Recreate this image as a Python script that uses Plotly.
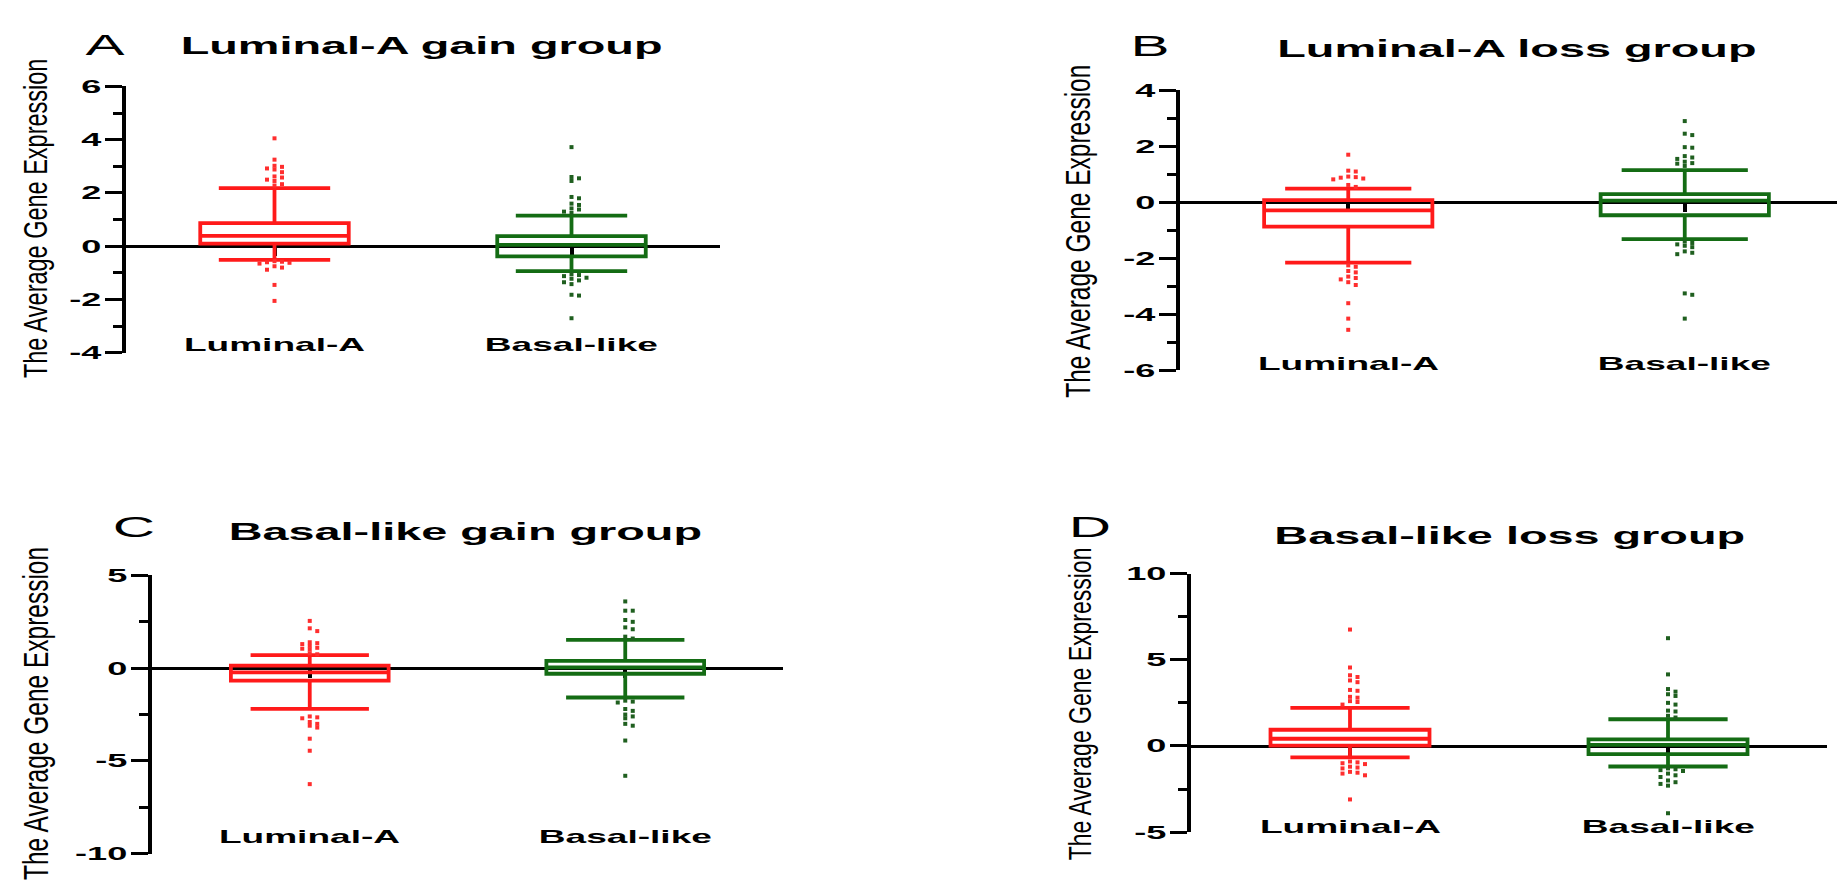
import plotly.graph_objects as go

# ---------------- data ----------------
categories = ["Luminal-A", "Basal-like"]
panel_letters = ["A", "B", "C", "D"]
panel_titles = ["Luminal-A gain group", "Luminal-A loss group",
                "Basal-like gain group", "Basal-like loss group"]
y_axis_title = "The Average Gene Expression"

# box statistics per panel: [Luminal-A, Basal-like]
box_q1 = [[0.10, -0.38], [-0.87, -0.46], [-0.67, -0.30], [0.02, -0.47]]
box_median = [[0.39, 0.05], [-0.29, 0.06], [-0.23, 0.05], [0.42, 0.06]]
box_q3 = [[0.87, 0.38], [0.08, 0.29], [0.14, 0.40], [0.94, 0.38]]
whisker_low = [[-0.51, -0.93], [-2.15, -1.31], [-2.19, -1.58], [-0.66, -1.19]]
whisker_high = [[2.18, 1.15], [0.49, 1.15], [0.70, 1.53], [2.21, 1.55]]

# outlier points
A_luminal = [4.05, 3.25, 3.02, 2.98, 2.92, 2.88, 2.78, 2.62, 2.58, 2.5, 2.45, 2.33, 2.28,
             -0.56, -0.58, -0.6, -0.62, -0.65, -0.75, -0.8, -0.88, -1.45, -2.05]
A_basal = [3.72, 2.6, 2.55, 2.45, 1.85, 1.8, 1.6, 1.55, 1.42, 1.38, 1.3, 1.25,
           -1.05, -1.08, -1.12, -1.18, -1.22, -1.28, -1.35, -1.42, -1.82, -1.85, -2.7]
B_luminal = [1.7, 1.13, 1.1, 0.92, 0.9, 0.88, 0.85, 0.82, 0.62, 0.55,
             -2.25, -2.3, -2.45, -2.5, -2.65, -2.7, -2.75, -2.85, -2.95, -3.6, -4.15, -4.55]
B_basal = [2.9, 2.45, 2.4, 1.97, 1.95, 1.65, 1.6, 1.55, 1.45, 1.4, 1.38, 1.3,
           -1.4, -1.45, -1.5, -1.55, -1.6, -1.75, -1.8, -1.85, -3.25, -3.3, -4.15]
C_luminal = [2.55, 2.15, 2.0, 1.4, 1.35, 1.3, 1.2, 1.1, 1.05, 1.0, 0.8, 0.75,
             -2.6, -2.65, -2.7, -2.9, -3.0, -3.1, -3.2, -3.8, -4.45, -6.25]
C_basal = [3.6, 3.1, 3.1, 2.6, 2.5, 2.2, 2.1, 1.7, 1.6,
           -1.75, -1.8, -1.85, -2.2, -2.3, -2.5, -2.6, -2.7, -3.0, -3.1, -3.9, -5.8]
D_luminal = [6.75, 4.55, 4.1, 4.0, 3.8, 3.7, 3.25, 3.2, 2.85, 2.8, 2.6, 2.55, 2.4,
             -0.9, -0.95, -1.0, -1.05, -1.2, -1.25, -1.3, -1.5, -1.55, -1.6, -1.7, -3.1]
D_basal = [6.25, 4.15, 3.3, 3.15, 3.0, 2.9, 2.5, 2.4, 2.05, 2.0, 1.75, 1.65,
           -1.3, -1.35, -1.4, -1.45, -1.6, -1.7, -1.8, -2.0, -2.1, -2.2, -2.3, -3.9]
outliers = [[A_luminal, A_basal], [B_luminal, B_basal],
            [C_luminal, C_basal], [D_luminal, D_basal]]

y_ranges = [[-4, 6], [-6, 4], [-10, 5], [-5, 10]]
y_dticks = [2, 2, 5, 5]

# ---------------- layout / style ----------------
W, H = 1845, 884
# plot frames in pixels: x-left, x-right, y-top, y-bottom
frames = [(118, 712, 69, 342), (1172, 1845, 73, 360),
          (144, 775, 570, 855), (1183, 1819, 568, 833)]
letter_pos = [(97, 26), (1142, 27), (126, 520), (1082, 520)]
title_pos = [(413, 27), (1509, 30), (457, 525), (1501, 529)]
ytitle_pos = [(28, 204), (1070, 218), (28, 712), (1072, 702)]
ytitle_size = [23.5, 24.5, 24.5, 23]
catlabel_y = [333, 353, 837, 827]

colors = ["#ff1a1a", "#146c14"]
dot_colors = ["#ff2e2e", "#1f5f1f"]
FONT = "Liberation Sans, Arial, Helvetica, sans-serif"

# the reference picture is widened about 1.95x horizontally; its lettering is too
TEXT_WIDEN = 1.95
YTITLE_THICKEN = 1.4


def px(x):
    return x / W


def py(y):
    return 1 - y / H


def fmt(v):
    return ("-" if v < 0 else "") + str(abs(int(v)))


def swarm(values, px_per_x, px_per_y, spacing=7.5, min_dy=3.6):
    """Beeswarm offsets (in x data units) so dots with close values sit side by side."""
    placed = []
    offsets = [0.0] * len(values)
    order = sorted(range(len(values)), key=lambda i: -values[i])
    for i in order:
        yv = values[i] * px_per_y
        k = 0
        while True:
            cand = ((k + 1) // 2) * (1 if k % 2 else -1) * spacing if k else 0.0
            if all(abs(cand - ox) >= spacing * 0.95 or abs(yv - oy) >= min_dy for ox, oy in placed):
                break
            k += 1
        placed.append((cand, yv))
        offsets[i] = cand / px_per_x
    return offsets


fig = go.Figure()
annotations = []
layout = dict(width=W, height=H, margin=dict(l=0, r=0, t=0, b=0),
              paper_bgcolor="white", plot_bgcolor="rgba(0,0,0,0)", showlegend=False)

for p in range(4):
    n = p + 1
    xa, ya = ("x" if n == 1 else f"x{n}"), ("y" if n == 1 else f"y{n}")
    x0, x1, yt, yb = frames[p]
    ymin, ymax = y_ranges[p]
    px_per_x = (x1 - x0) / 2.0
    px_per_y = (yb - yt) / (ymax - ymin)

    for g in range(2):
        fig.add_trace(go.Box(
            x=[g], q1=[box_q1[p][g]], median=[box_median[p][g]], q3=[box_q3[p][g]],
            lowerfence=[whisker_low[p][g]], upperfence=[whisker_high[p][g]],
            orientation="v", width=0.5, whiskerwidth=0.75, boxpoints=False,
            line=dict(color=colors[g], width=3.8), fillcolor="rgba(0,0,0,0)",
            xaxis=xa, yaxis=ya, hoverinfo="skip"))
        vals = outliers[p][g]
        offs = swarm(vals, px_per_x, px_per_y)
        fig.add_trace(go.Scatter(
            x=[g + o for o in offs], y=vals, mode="markers",
            marker=dict(size=4, color=dot_colors[g], symbol="square"),
            xaxis=xa, yaxis=ya, cliponaxis=False, hoverinfo="skip"))

    zero_pos = py(yb) + (0 - ymin) / (ymax - ymin) * (py(yt) - py(yb))
    tvals = list(range(ymin, ymax + 1, y_dticks[p]))
    layout["xaxis" if n == 1 else f"xaxis{n}"] = dict(
        domain=[px(x0), px(x1)], range=[-0.5, 1.5], anchor="free", position=zero_pos,
        showline=True, linecolor="black", linewidth=2.5, showgrid=False, zeroline=False,
        ticks="outside", ticklen=8, tickwidth=4, tickcolor="black",
        tickvals=[0, 1], showticklabels=False, layer="below traces", fixedrange=True)
    layout["yaxis" if n == 1 else f"yaxis{n}"] = dict(
        domain=[py(yb), py(yt)], range=[ymin, ymax], anchor=xa,
        showline=True, linecolor="black", linewidth=4, showgrid=False, zeroline=False,
        ticks="outside", ticklen=17, tickwidth=3, tickcolor="black",
        tickvals=tvals, ticktext=[fmt(v) for v in tvals],
        minor=dict(dtick=y_dticks[p] / 2, tick0=ymin, ticks="outside", ticklen=9,
                   tickwidth=3, tickcolor="black", showgrid=False),
        tickfont=dict(family=FONT, size=18.5, color="black", weight="bold"),
        fixedrange=True)

    # category labels
    for g in range(2):
        annotations.append(dict(
            text=categories[g], x=g, xref=xa, y=py(catlabel_y[p]), yref="paper",
            showarrow=False, xanchor="center", yanchor="middle",
            font=dict(family=FONT, size=19, color="black", weight="bold")))
    # panel letter
    annotations.append(dict(
        text=panel_letters[p], x=px(letter_pos[p][0]), y=py(letter_pos[p][1]),
        xref="paper", yref="paper", showarrow=False, xanchor="center", yanchor="middle",
        font=dict(family=FONT, size=30, color="black")))
    # title
    annotations.append(dict(
        text=panel_titles[p], x=px(title_pos[p][0]), y=py(title_pos[p][1]),
        xref="paper", yref="paper", showarrow=False, xanchor="center", yanchor="middle",
        font=dict(family=FONT, size=24, color="black", weight="bold")))
    # y-axis title
    annotations.append(dict(
        text=y_axis_title, x=px(ytitle_pos[p][0]), y=py(ytitle_pos[p][1]),
        xref="paper", yref="paper", showarrow=False, xanchor="center", yanchor="middle",
        textangle=-90, font=dict(family=FONT, size=ytitle_size[p], color="black")))

layout["annotations"] = annotations
fig.update_layout(**layout)

# widen the lettering like the reference (text stays real SVG text)
post_js = """
var gd = document.getElementById('{plot_id}');
var WIDEN = %f, YT = %s, THICK = %f;
function widen(t) {
  var L = t.getComputedTextLength();
  if (!(L > 0)) return;
  t.setAttribute('textLength', (L * WIDEN).toFixed(2));
  t.setAttribute('lengthAdjust', 'spacingAndGlyphs');
}
gd.querySelectorAll('text.annotation-text').forEach(function (t) {
  if (t.textContent === YT) {
    var b = t.getBBox();
    var cy = b.y + b.height / 2;
    var old = t.getAttribute('transform') || '';
    t.setAttribute('transform', old + ' translate(0,' + cy + ') scale(1,' + THICK + ') translate(0,' + (-cy) + ')');
  } else {
    widen(t);
  }
});
gd.querySelectorAll('.yaxislayer-above text').forEach(widen);
""" % (TEXT_WIDEN, '"' + y_axis_title + '"', YTITLE_THICKEN)

fig.write_html("out.html", config={"displayModeBar": False}, post_script=post_js)
